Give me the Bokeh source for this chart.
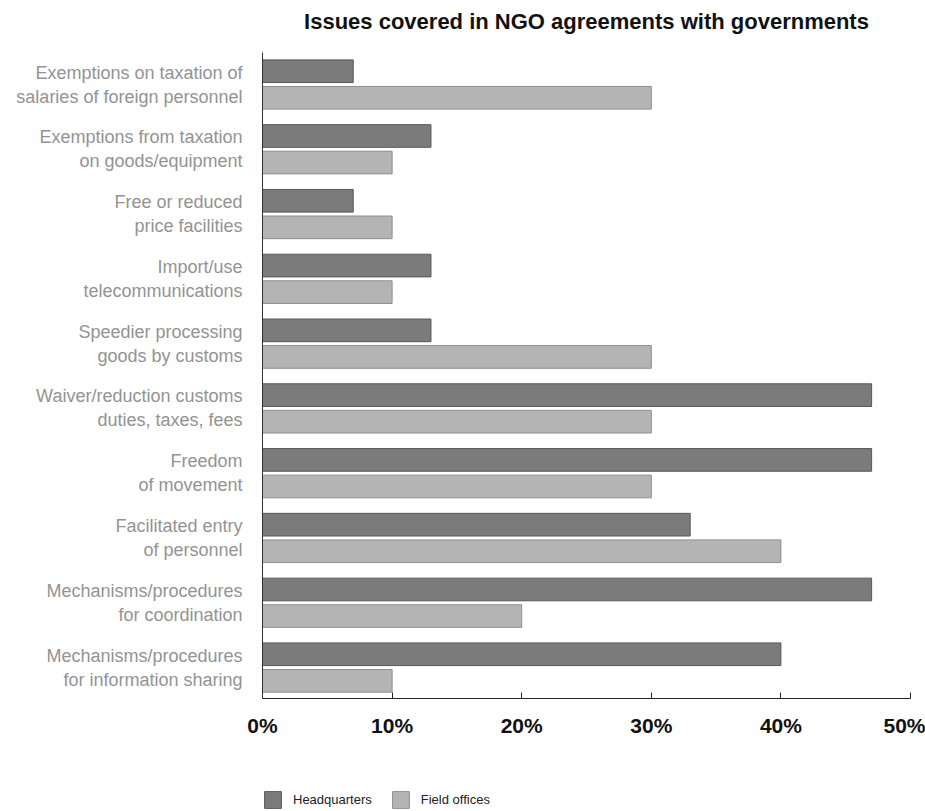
from bokeh.plotting import figure
from bokeh.models import Range1d, FixedTicker, PrintfTickFormatter, Legend, LegendItem, ColumnDataSource
from bokeh.layouts import column
from bokeh.embed import file_html
from bokeh.resources import INLINE

categories = [
    "Exemptions on taxation of\nsalaries of foreign personnel",
    "Exemptions from taxation\non goods/equipment",
    "Free or reduced\nprice facilities",
    "Import/use\ntelecommunications",
    "Speedier processing\ngoods by customs",
    "Waiver/reduction customs\nduties, taxes, fees",
    "Freedom\nof movement",
    "Facilitated entry\nof personnel",
    "Mechanisms/procedures\nfor coordination",
    "Mechanisms/procedures\nfor information sharing",
]
headquarters = [7, 13, 7, 13, 13, 47, 47, 33, 47, 40]
field_offices = [30, 10, 10, 10, 30, 30, 30, 40, 20, 10]
x_ticks = [0, 10, 20, 30, 40, 50]
series_names = ["Headquarters", "Field offices"]
title_text = "Issues covered in NGO agreements with governments"

HQ_FILL, HQ_LINE = "#7b7b7b", "#585858"
FO_FILL, FO_LINE = "#b4b4b4", "#8e8e8e"

n = len(categories)
pos = [n - 1 - i for i in range(n)]
off = 0.205
bh = 0.35

src = ColumnDataSource(dict(
    cat=categories,
    hq=headquarters,
    fo=field_offices,
    y_hq=[p + off for p in pos],
    y_fo=[p - off for p in pos],
))


def strip(h):
    f = figure(width=925, height=h, output_backend="svg", toolbar_location=None,
               x_range=Range1d(0, 1), y_range=Range1d(0, 1),
               x_axis_type=None, y_axis_type=None,
               min_border_left=0, min_border_right=0, min_border_top=0, min_border_bottom=0)
    f.outline_line_color = None
    f.xgrid.visible = False
    f.ygrid.visible = False
    return f


# title strip
top = strip(42)
top.title.text = title_text
top.title.align = "center"
top.title.text_font = "Liberation Sans"
top.title.text_font_size = "22px"
top.title.text_font_style = "bold"
top.title.text_color = "#111111"
top.title.standoff = 12

# main chart
p = figure(width=925, height=728, output_backend="svg", toolbar_location=None,
           x_range=Range1d(0, 50), y_range=Range1d(-0.478, 9.494),
           min_border_left=262, min_border_right=15, min_border_top=10,
           min_border_bottom=72)

p.hbar(y="y_hq", left=0, right="hq", height=bh, source=src,
       fill_color=HQ_FILL, line_color=HQ_LINE, line_width=1)
p.hbar(y="y_fo", left=0, right="fo", height=bh, source=src,
       fill_color=FO_FILL, line_color=FO_LINE, line_width=1)

p.xgrid.visible = False
p.ygrid.visible = False
p.outline_line_color = None

xa = p.xaxis[0]
xa.ticker = FixedTicker(ticks=x_ticks)
xa.formatter = PrintfTickFormatter(format="%d%%")
xa.major_tick_in = 6
xa.major_tick_out = 0
xa.minor_tick_line_color = None
xa.axis_line_color = "#222222"
xa.major_tick_line_color = "#222222"
xa.major_label_text_font = "Liberation Sans"
xa.major_label_text_font_style = "bold"
xa.major_label_text_font_size = "21px"
xa.major_label_text_color = "#111111"
xa.major_label_standoff = 15

ya = p.yaxis[0]
ya.ticker = FixedTicker(ticks=pos)
ya.major_label_overrides = {pp: c for pp, c in zip(pos, categories)}
ya.major_tick_in = 0
ya.major_tick_out = 0
ya.minor_tick_line_color = None
ya.axis_line_color = "#333333"
ya.major_label_text_font = "Liberation Sans"
ya.major_label_text_font_size = "18px"
ya.major_label_text_color = "#939393"
ya.major_label_standoff = 20
ya.major_label_text_line_height = 1.2

# legend strip
lg = strip(41)
l_hq = lg.hbar(y="y_hq", left=0, right="hq", height=bh, source=src,
               fill_color=HQ_FILL, line_color=HQ_LINE, line_width=1, visible=False)
l_fo = lg.hbar(y="y_fo", left=0, right="fo", height=bh, source=src,
               fill_color=FO_FILL, line_color=FO_LINE, line_width=1, visible=False)

legend = Legend(items=[LegendItem(label=series_names[0], renderers=[l_hq]),
                       LegendItem(label=series_names[1], renderers=[l_fo])],
                orientation="horizontal", location=(0, 1),
                glyph_width=21, glyph_height=21, label_height=21,
                label_standoff=10, spacing=18, padding=0, margin=0,
                border_line_color=None, background_fill_alpha=0,
                inactive_fill_alpha=0,
                label_text_font="Liberation Sans", label_text_font_size="13px",
                label_text_color="#222222")
lg.add_layout(legend, "center")

layout = column(top, p, lg, spacing=0)
open("out.html", "w").write(file_html(layout, INLINE))
